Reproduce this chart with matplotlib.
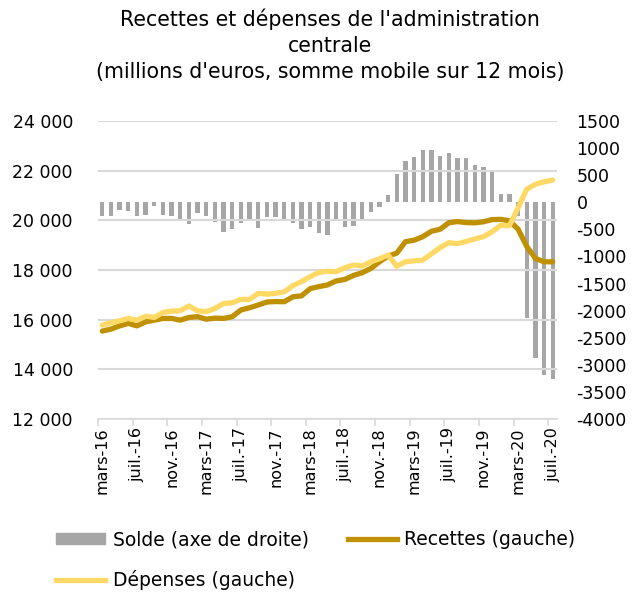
import numpy as np
import matplotlib
matplotlib.use("Agg")
import matplotlib.pyplot as plt
from matplotlib.patches import Patch
from matplotlib.lines import Line2D

# monthly data, mars-16 .. juil.-20 (53 months)
recettes = [15540, 15620, 15750, 15850, 15750, 15910, 15980, 16050, 16050, 15980,
            16090, 16120, 16020, 16060, 16050, 16120, 16390, 16480, 16590, 16710,
            16730, 16720, 16920, 16960, 17250, 17330, 17400, 17560, 17620, 17780,
            17890, 18060, 18330, 18560, 18680, 19140, 19200, 19340, 19560, 19640,
            19900, 19950, 19910, 19900, 19940, 20030, 20040, 19980, 19650, 18950,
            18470, 18330, 18330]
depenses = [15780, 15875, 15955, 16050, 15980, 16140, 16090, 16290, 16345, 16360,
            16550, 16360, 16320, 16450, 16650, 16680, 16815, 16815, 17060, 17030,
            17060, 17120, 17370, 17530, 17730, 17900, 17950, 17930, 18090, 18200,
            18160, 18330, 18450, 18600, 18150, 18330, 18370, 18400, 18650, 18900,
            19100, 19060, 19150, 19250, 19340, 19540, 19800, 19780, 20500, 21250,
            21450, 21550, 21620]
solde = [-250, -250, -140, -170, -250, -230, -75, -230, -260, -310,
         -400, -200, -260, -360, -540, -490, -380, -330, -475, -270,
         -270, -350, -380, -500, -460, -560, -600, -330, -465, -440,
         -300, -180, -90, 130, 530, 765, 830, 965, 960, 845,
         905, 810, 825, 685, 655, 590, 155, 150, -250, -2140,
         -2880, -3190, -3270]
tick_labels = ["mars-16", "juil.-16", "nov.-16", "mars-17", "juil.-17", "nov.-17",
               "mars-18", "juil.-18", "nov.-18", "mars-19", "juil.-19", "nov.-19",
               "mars-20", "juil.-20"]

c_rec = "#BF9000"
c_dep = "#FFD966"
c_sol = "#A6A6A6"
c_grid = "#D9D9D9"

plt.rcParams["font.family"] = "DejaVu Sans"

fig = plt.figure(figsize=(6.44, 5.93), dpi=100)
ax = fig.add_axes([98 / 644, 1 - 419 / 593, (557 - 98) / 644, (419 - 121) / 593])
ax2 = ax.twinx()
ax.set_zorder(ax2.get_zorder() + 1)
ax.patch.set_visible(False)

x = np.arange(len(recettes))

ax2.bar(x, solde, width=0.5, color=c_sol)
ax.plot(x, recettes, color=c_rec, lw=3.8, solid_capstyle="round", solid_joinstyle="round")
ax.plot(x, depenses, color=c_dep, lw=3.8, solid_capstyle="round", solid_joinstyle="round")

ax.set_xlim(-0.5, len(x) - 0.5)
ax.set_ylim(12000, 24000)
ax.set_yticks(np.arange(12000, 24001, 2000))
ax.set_yticklabels([f"{v:,}".replace(",", " ") for v in range(12000, 24001, 2000)])
ax2.set_ylim(-4000, 1500)
ax2.set_yticks(np.arange(-4000, 1501, 500))
ax2.set_yticklabels([str(v) for v in range(-4000, 1501, 500)])

ax.grid(axis="y", color=c_grid, lw=1.5)
ax.set_axisbelow(True)

ax.set_xticks(np.arange(-0.5, len(x) - 1, 4))
ax.set_xticklabels([])
ax.set_xticks(np.arange(0, len(x), 4), minor=True)
ax.set_xticklabels(tick_labels, minor=True, rotation=90, fontsize=11.5)
ax.tick_params(axis="x", which="major", length=5, color=c_grid, width=1.2)
ax.tick_params(axis="x", which="minor", length=0, pad=6)
ax.tick_params(axis="y", length=0, labelsize=12.5, pad=18)
ax2.tick_params(axis="y", length=0, labelsize=12.5, pad=14)

for a in (ax, ax2):
    for s in a.spines.values():
        s.set_visible(False)
ax.spines["bottom"].set_visible(True)
ax.spines["bottom"].set_color(c_grid)
ax.spines["bottom"].set_linewidth(1.2)

fig.text(330 / 644, 1 - 45 / 593,
         "Recettes et dépenses de l'administration\ncentrale\n(millions d'euros, somme mobile sur 12 mois)",
         ha="center", va="center", fontsize=14.8, linespacing=1.38)

handles = [Patch(color=c_sol), Line2D([], [], color=c_dep, lw=3.8),
           Line2D([], [], color=c_rec, lw=3.8)]
labels = ["Solde (axe de droite)", "Dépenses (gauche)", "Recettes (gauche)"]
fig.legend(handles, labels, ncol=2, loc="upper left", bbox_to_anchor=(47 / 644, 1 - 521 / 593),
           frameon=False, fontsize=13.5, handlelength=2.6, handleheight=0.5,
           handletextpad=0.4, columnspacing=2.1, labelspacing=1.1, borderpad=0)

fig.savefig("out.png", dpi=100)
